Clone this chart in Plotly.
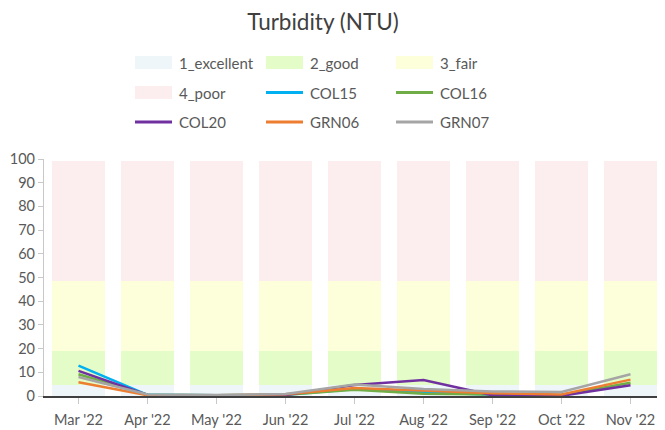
import plotly.graph_objects as go

months = ["Mar '22", "Apr '22", "May '22", "Jun '22", "Jul '22", "Aug '22", "Sep '22", "Oct '22", "Nov '22"]

band_names = ["1_excellent", "2_good", "3_fair", "4_poor"]
band_sizes = [4.6, 14.2, 29.7, 50.7]   # stacked thickness of each band
band_colors = ["#EEF6F9", "#E4FDC8", "#FCFFDA", "#FCEEEE"]

site_names = ["COL15", "COL16", "COL20", "GRN06", "GRN07"]
col15 = [12.8, 0.5, 0.3, 0.5, 3.0, 1.6, 0.5, 0.3, None]
col16 = [9.2, 0.5, 0.3, 0.5, 2.6, 1.0, 0.6, 0.4, 5.6]
col20 = [10.6, 0.4, 0.2, 0.4, 4.6, 6.7, 0.3, 0.1, 4.5]
grn06 = [5.8, 0.3, 0.3, 0.7, 3.4, 2.2, 1.2, 0.6, 6.9]
grn07 = [8.0, 0.6, 0.4, 0.8, 4.9, 3.0, 1.9, 1.7, 9.2]
site_values = [col15, col16, col20, grn06, grn07]
site_colors = ["#00B0F0", "#70AD47", "#7030A0", "#ED7D31", "#A5A5A5"]

FONT = "Lato, 'Open Sans', sans-serif"
TXT = "#595959"

fig = go.Figure()
for name, size, color in zip(band_names, band_sizes, band_colors):
    fig.add_trace(go.Bar(x=months, y=[size] * len(months), name=name,
                         marker=dict(color=color, line=dict(width=0)),
                         showlegend=False, hoverinfo="skip"))
for name, vals, color in zip(site_names, site_values, site_colors):
    fig.add_trace(go.Scatter(x=months, y=vals, name=name, mode="lines",
                             line=dict(color=color, width=2.5),
                             showlegend=False))

# layout geometry (pixels); page body has an 8px margin
OFF = 8
W, H = 665 - OFF, 430 - OFF
ML, MR, MT, MB = 44 - OFF, 0, 159 - OFF, 34
PW, PH = W - ML - MR, H - MT - MB

def px(x):
    return (x - OFF - ML) / PW

def py(y):
    return (H - MB - (y - OFF)) / PH

# manual legend: 3 columns x 3 rows (coordinates in window pixels)
legend_items = [(n, c, "band") for n, c in zip(band_names, band_colors)] + \
               [(n, c, "line") for n, c in zip(site_names, site_colors)]
col_x = [135, 266, 396]
row_y = [62.5, 92.5, 122]
shapes = []
annotations = []
for i, (name, color, kind) in enumerate(legend_items):
    cx = col_x[i % 3]
    cy = row_y[i // 3]
    if kind == "band":
        shapes.append(dict(type="rect", xref="paper", yref="paper",
                           x0=px(cx), x1=px(cx + 37), y0=py(cy + 6.5), y1=py(cy - 6.5),
                           fillcolor=color, line=dict(width=0)))
    else:
        shapes.append(dict(type="line", xref="paper", yref="paper",
                           x0=px(cx), x1=px(cx + 37), y0=py(cy), y1=py(cy),
                           line=dict(color=color, width=3)))
    annotations.append(dict(xref="paper", yref="paper", x=px(cx + 42), y=py(cy),
                            xanchor="left", yanchor="middle", text=name, showarrow=False,
                            font=dict(family=FONT, size=15, color=TXT)))

fig.update_layout(
    width=W, height=H,
    margin=dict(l=ML, r=MR, t=MT, b=MB),
    paper_bgcolor="white", plot_bgcolor="white",
    barmode="stack", bargap=0.232,
    showlegend=False,
    title=dict(text="Turbidity (NTU)", x=px(323), xanchor="center",
               xref="paper", y=1 - (22 - OFF) / H, yanchor="middle",
               font=dict(family=FONT, size=22.5, color="#404040")),
    font=dict(family=FONT, color=TXT),
    shapes=shapes, annotations=annotations,
    xaxis=dict(showline=True, linecolor="#404040", linewidth=1.5,
               ticks="outside", ticklen=6, tickcolor="#C8C8C8", tickwidth=1.2,
               tickfont=dict(family=FONT, size=14.5, color=TXT), showgrid=False,
               ticklabelstandoff=4),
    yaxis=dict(range=[0, 100], dtick=10, showline=True, linecolor="#C8C8C8", linewidth=1.2,
               ticks="outside", ticklen=5, tickcolor="#C8C8C8",
               tickfont=dict(family=FONT, size=14.5, color=TXT), showgrid=False, zeroline=False),
)

fig.write_html("out.html")
